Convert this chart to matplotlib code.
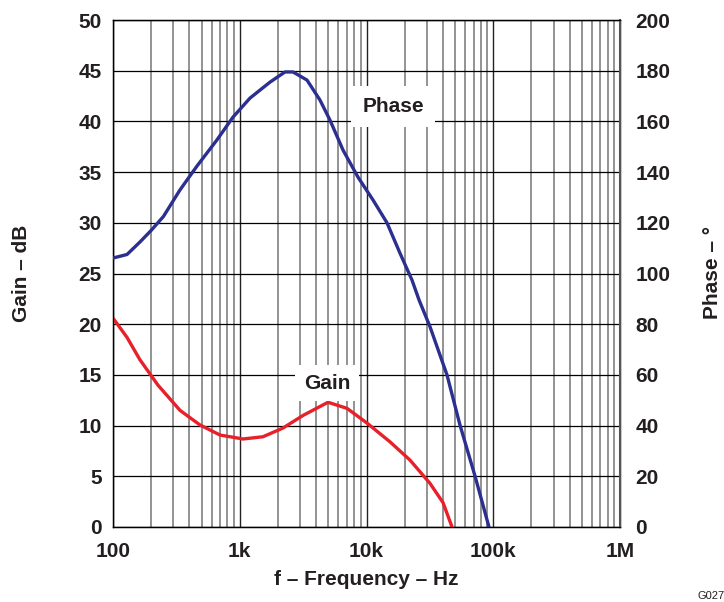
import numpy as np
import matplotlib
matplotlib.use("Agg")
import matplotlib.pyplot as plt
from matplotlib.ticker import FixedLocator, NullFormatter

plt.rcParams['font.family'] = ['Liberation Sans', 'DejaVu Sans']

# Data
phase_freq = [100, 129, 163, 200, 250, 338, 460, 661, 885, 1205, 1733, 2275, 2632,
              3393, 4297, 5152, 6525, 8570, 11255, 14510, 18380, 22860, 26000,
              31700, 43150, 54650, 71800, 92540]
phase_deg = [106.1, 107.5, 112.4, 117.0, 122.5, 133.0, 142.4, 152.7, 161.7, 169.2,
             175.5, 179.5, 179.5, 176.3, 168.4, 160.5, 148.7, 138.0, 129.0,
             120.0, 108.0, 97.4, 89.5, 79.0, 60.0, 40.2, 20.1, 0.0]

gain_freq = [100, 129, 163, 226, 338, 486, 699, 1061, 1525, 2194, 3155, 4970,
             7020, 10090, 15320, 22030, 31700, 40170, 47290]
gain_db = [20.6, 18.7, 16.5, 14.0, 11.5, 10.06, 9.07, 8.68, 8.9, 9.76, 11.0,
           12.3, 11.7, 10.25, 8.4, 6.6, 4.3, 2.4, 0.0]

x_ticks = [1e2, 1e3, 1e4, 1e5, 1e6]
x_ticklabels = ['100', '1k', '10k', '100k', '1M']
gain_ticks = list(range(0, 51, 5))
phase_ticks = list(range(0, 201, 20))

fig = plt.figure(figsize=(7.24, 6.02), dpi=100)
ax = fig.add_axes([113/724, 75/602, 507/724, 507/602])

ax.set_xscale('log')
ax.set_xlim(1e2, 1e6)
ax.set_ylim(0, 50)

# grid
minor = [m * 10**e for e in range(2, 6) for m in range(2, 10)]
for f in minor:
    ax.axvline(f, color='#8a8a8a', lw=1.3, zorder=1)
for f in x_ticks:
    ax.axvline(f, color='#222222', lw=1.0, zorder=1)
for g in gain_ticks:
    ax.axhline(g, color='black', lw=0.9, zorder=1)

ax.set_xticks(x_ticks)
ax.set_xticklabels(x_ticklabels)
ax.xaxis.set_minor_locator(FixedLocator(minor))
ax.xaxis.set_minor_formatter(NullFormatter())
ax.set_yticks(gain_ticks)
ax.tick_params(axis='y', which='both', length=0, labelsize=15, pad=8)
ax.tick_params(axis='x', which='both', length=0, labelsize=15, pad=11)
for lab in ax.get_xticklabels() + ax.get_yticklabels():
    lab.set_fontweight('bold')
    lab.set_color('#231f20')

for s in ax.spines.values():
    s.set_color('black')
    s.set_linewidth(1.0)

ax.plot(gain_freq, gain_db, color='#e8202a', lw=2.4, zorder=3)

ax2 = ax.twinx()
ax2.set_ylim(0, 200)
ax2.set_yticks(phase_ticks)
ax2.tick_params(axis='y', length=0, labelsize=15, pad=11)
for lab in ax2.get_yticklabels():
    lab.set_fontweight('bold')
    lab.set_color('#231f20')
ax2.spines['right'].set_color('#555555')
ax2.spines['right'].set_linewidth(1.5)
ax2.plot(phase_freq, phase_deg, color='#2b2f8f', lw=2.4, zorder=3)

ax2.text(16190, 165.7, 'Phase', fontsize=15, fontweight='bold', color='#231f20',
         ha='center', va='center', zorder=5,
         bbox=dict(facecolor='white', edgecolor='none', pad=8))
ax2.text(4880, 56.8, 'Gain', fontsize=15, fontweight='bold', color='#231f20',
         ha='center', va='center', zorder=5,
         bbox=dict(facecolor='white', edgecolor='none', pad=6))

ax.set_xlabel('f – Frequency – Hz', fontsize=15, fontweight='bold', color='#231f20', labelpad=6)
fig.text(22/724, 1 - 273/602, 'Gain – dB', rotation=90, fontsize=15, fontweight='bold',
         color='#231f20', ha='center', va='center')
fig.text(713/724, 1 - 273/602, 'Phase – °', rotation=90, fontsize=15, fontweight='bold',
         color='#231f20', ha='center', va='center')
fig.text(697/724, 1 - 596/602, 'G027', fontsize=8, color='#231f20', ha='left', va='center')

fig.savefig('out.png', dpi=100)
